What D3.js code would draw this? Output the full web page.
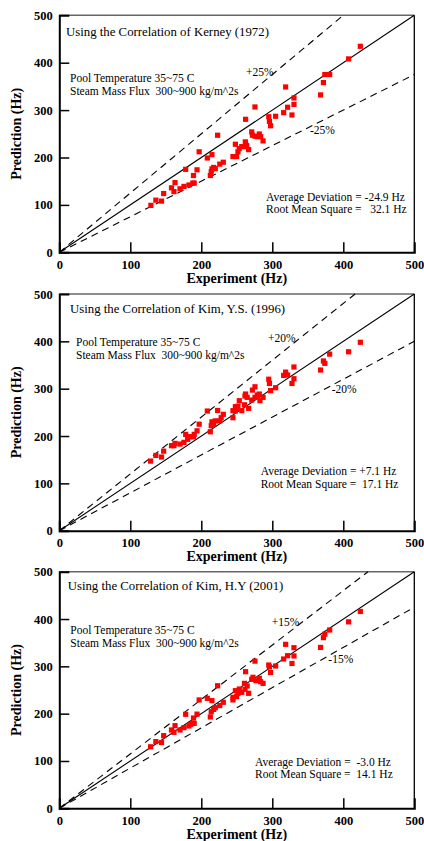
<!DOCTYPE html>
<html>
<head>
<meta charset="utf-8">
<script src="https://cdn.jsdelivr.net/npm/d3@7"></script>
<style>
  body { margin: 0; background: #fff; }
  text { font-family: "Liberation Serif", "Times New Roman", serif; }
  .tick-label { font-size: 12.5px; font-weight: bold; }
  .axis-title { font-size: 14px; font-weight: bold; }
  .note { font-size: 11.5px; }
  .title { font-size: 12.8px; }
</style>
</head>
<body>
<script>
const w = 424
const h = 841

const ticks = [0, 100, 200, 300, 400, 500]

// Kerney (1972)
const kerneyExp = [129, 136, 144, 147, 158, 161.5, 163, 170, 175.6, 178, 182.6, 188, 190, 189, 194, 197,
  208.5, 215, 212.7, 214, 215, 217.4, 219.7, 223, 226, 231, 244.6, 248, 249.8, 251.6, 253.5, 257, 260.8,
  262, 262.4, 264, 266.7, 262.4, 271, 272, 275.6, 275.6, 279, 281.7, 283.6, 287, 295, 296, 297.6, 304.7,
  316, 318.8, 321.6, 327.7, 330.5, 330.5, 368, 372, 374, 380.8, 407.5, 424]
const kerneyPred = [99, 110, 108, 124, 136, 128, 147, 134, 139, 175, 142, 146, 146, 162, 174, 212,
  199, 206, 162, 170, 176, 179, 176.5, 247, 186, 190, 202, 228, 202, 212, 219, 223, 223,
  233, 228.5, 225, 216.6, 280.6, 254, 247, 306.6, 245, 244, 249.6, 244, 235, 286, 276, 267, 287,
  294.6, 348.8, 306, 289.7, 312, 325.6, 332, 358, 375, 375, 408, 434.6]

// Kim, Y.S. (1996)
const kimYSExp = [128.6, 136, 144, 147, 158, 161.5, 163, 170, 175.6, 178, 180.8, 182.6, 188, 190, 189, 194,
  197, 208.5, 212.7, 214, 215, 217.4, 219.7, 223, 226, 228, 231, 244.6, 244.6, 248, 248, 249.8, 251.6,
  253.5, 257, 260.8, 261.5, 262.4, 264.6, 266.7, 271, 272, 275.6, 275.6, 279, 281.7, 282.6, 287, 295,
  296, 297.6, 304.7, 316, 318.8, 321.6, 327.7, 330.5, 330.5, 368, 372, 374, 380.8, 407.5, 424]
const kimYSPred = [147, 159, 155.6, 168, 179.6, 179.6, 184.5, 183, 186.6, 203.5, 193, 198.6, 198.6, 203.5, 198.6, 211,
  225, 252.8, 209, 221.8, 230, 225, 232, 254, 232, 238.7, 245.8, 238.7, 253.5, 252.8, 262, 258.5, 263,
  274.6, 253.5, 266, 284.5, 288.7, 281.7, 258.5, 276, 297, 304, 281.7, 286.6, 288.7, 274.6, 281.7, 320,
  311, 295.8, 302, 328, 335, 328.9, 311, 345.8, 321, 339.4, 358.5, 353.5, 373, 378, 398]

// Kim, H.Y (2001)
const kimHYExp = [128.6, 136, 144, 147, 158, 161.5, 163, 170, 175.6, 178, 182.6, 185, 188, 190, 189, 194,
  197, 208.5, 212.7, 214, 215, 217.4, 219.7, 223, 226, 231, 244.6, 244.6, 248, 249.8, 251.6, 253.5, 257,
  260.8, 261.5, 262.4, 264.6, 266.7, 271, 272.8, 275.6, 277, 281.7, 283.6, 287, 295, 296, 297.6, 304.7,
  316, 318.8, 321.6, 327.7, 330.5, 330.5, 368, 372, 374, 380.8, 407.5, 424]
const kimHYPred = [130, 141, 139, 153.5, 165.5, 160.6, 174.6, 165.5, 170.4, 198.6, 174, 177.5, 179.6, 179.6, 190.8, 199,
  229, 232.4, 193, 204, 227.5, 209, 212.7, 259, 217, 224, 229, 234.5, 248.6, 236, 243, 252, 245,
  264, 251.4, 288.7, 258.5, 243, 272.5, 276.8, 311, 269.7, 274.6, 267.6, 264, 302.8, 299, 287, 300.7,
  315.5, 346.5, 322.5, 306, 339.4, 322, 340, 360.6, 368, 376.8, 394, 416]

const panels = [
  {top: 15.3, bottom: 252.3, exp: kerneyExp, pred: kerneyPred, band: 0.25,
   title: 'Using the Correlation of Kerney (1972)', titleX: 66, titleY: 36,
   condX: 70, condY: 82, plusX: 246, plusY: 76, minusX: 310, minusY: 134,
   statX: 266, statY: 200.7,
   avg: 'Average Deviation = -24.9 Hz', rms: 'Root Mean Square =   32.1 Hz'},
  {top: 294, bottom: 530.7, exp: kimYSExp, pred: kimYSPred, band: 0.20,
   title: 'Using the Correlation of Kim, Y.S. (1996)', titleX: 70, titleY: 312.7,
   condX: 76, condY: 346, plusX: 268, plusY: 341.7, minusX: 331.7, minusY: 392.7,
   statX: 260.7, statY: 475,
   avg: 'Average Deviation = +7.1 Hz', rms: 'Root Mean Square =  17.1 Hz'},
  {top: 571.7, bottom: 808.3, exp: kimHYExp, pred: kimHYPred, band: 0.15,
   title: 'Using the Correlation of Kim, H.Y (2001)', titleX: 67.7, titleY: 590,
   condX: 70.3, condY: 634, plusX: 271.7, plusY: 626, minusX: 328.3, minusY: 663.3,
   statX: 255, statY: 765.7,
   avg: 'Average Deviation =  -3.0 Hz', rms: 'Root Mean Square =  14.1 Hz'}
]

const left = 59.3
const right = 414.3

const svg = d3.select('body')
              .append('svg')
              .attr('width', w)
              .attr('height', h)

const xScale = d3.scaleLinear()
                 .domain([0, 500])
                 .range([left, right])

panels.forEach(p => {
  const yScale = d3.scaleLinear()
                   .domain([0, 500])
                   .range([p.bottom, p.top])

  const g = svg.append('g')

  // frame: top & right thinner
  g.append('line')
    .attr('x1', left).attr('x2', right)
    .attr('y1', p.top).attr('y2', p.top)
    .attr('stroke', '#666').attr('stroke-width', 1.5)
  g.append('line')
    .attr('x1', right).attr('x2', right)
    .attr('y1', p.top).attr('y2', p.bottom)
    .attr('stroke', '#000').attr('stroke-width', 1.3)

  // 1:1 and deviation bands
  const line = d3.line().x(d => xScale(d[0])).y(d => yScale(d[1]))
  const up = 1 + p.band
  const down = 1 - p.band
  g.append('path')
    .attr('d', line([[0, 0], [500, 500]]))
    .attr('stroke', '#000').attr('stroke-width', 1.1).attr('fill', 'none')
  g.append('path')
    .attr('d', line([[0, 0], [500 / up, 500]]))
    .attr('stroke', '#000').attr('stroke-width', 1.1).attr('fill', 'none')
    .attr('stroke-dasharray', '7,5')
  g.append('path')
    .attr('d', line([[0, 0], [500, 500 * down]]))
    .attr('stroke', '#000').attr('stroke-width', 1.1).attr('fill', 'none')
    .attr('stroke-dasharray', '7,5')

  // points
  g.selectAll('rect.pt')
    .data(p.exp.map((e, i) => [e, p.pred[i]]))
    .enter()
    .append('rect')
    .attr('class', 'pt')
    .attr('x', d => xScale(d[0]) - 2.6)
    .attr('y', d => yScale(d[1]) - 2.6)
    .attr('width', 5.2)
    .attr('height', 5.2)
    .attr('fill', '#ff0000')

  // axes
  const xAxis = d3.axisBottom(xScale).tickValues(ticks).tickSize(-10).tickPadding(5)
  const yAxis = d3.axisLeft(yScale).tickValues(ticks).tickSize(-10).tickPadding(6)

  const gx = g.append('g')
    .attr('transform', 'translate(0,' + p.bottom + ')')
    .call(xAxis)
  const gy = g.append('g')
    .attr('transform', 'translate(' + left + ',0)')
    .call(yAxis)

  ;[gx, gy].forEach(a => {
    a.select('.domain').attr('stroke', '#000').attr('stroke-width', 2)
    a.selectAll('.tick line').attr('stroke', '#000').attr('stroke-width', 1.5)
    a.selectAll('.tick text')
      .attr('class', 'tick-label')
      .attr('fill', '#000')
      .style('font-family', '"Liberation Serif", "Times New Roman", serif')
  })
  gx.selectAll('.tick line').filter(d => d === 0 || d === 500).remove()
  gy.selectAll('.tick line').filter(d => d === 0 || d === 500).remove()
  gx.selectAll('.tick text').attr('dy', '0.9em')
  gy.selectAll('.tick text').attr('dx', '-0.05em')

  // axis titles
  g.append('text')
    .attr('class', 'axis-title')
    .attr('x', (left + right) / 2)
    .attr('y', p.bottom + 30.5)
    .attr('text-anchor', 'middle')
    .text('Experiment (Hz)')
  g.append('text')
    .attr('class', 'axis-title')
    .attr('transform', 'translate(21,' + (p.top + p.bottom) / 2 + ') rotate(-90)')
    .attr('text-anchor', 'middle')
    .text('Prediction (Hz)')

  // annotations
  g.append('text').attr('class', 'title')
    .attr('x', p.titleX).attr('y', p.titleY).text(p.title)
  g.append('text').attr('class', 'note')
    .attr('x', p.condX).attr('y', p.condY).text('Pool Temperature 35~75 C')
  g.append('text').attr('class', 'note')
    .attr('x', p.condX).attr('y', p.condY + 12.5)
    .style('white-space', 'pre')
    .text('Steam Mass Flux  300~900 kg/m^2s')
  g.append('text').attr('class', 'note')
    .attr('x', p.plusX).attr('y', p.plusY).text('+' + Math.round(p.band * 100) + '%')
  g.append('text').attr('class', 'note')
    .attr('x', p.minusX).attr('y', p.minusY).text('-' + Math.round(p.band * 100) + '%')
  g.append('text').attr('class', 'note')
    .attr('x', p.statX).attr('y', p.statY)
    .style('white-space', 'pre')
    .text(p.avg)
  g.append('text').attr('class', 'note')
    .attr('x', p.statX).attr('y', p.statY + 12.6)
    .style('white-space', 'pre')
    .text(p.rms)
})
</script>
</body>
</html>
